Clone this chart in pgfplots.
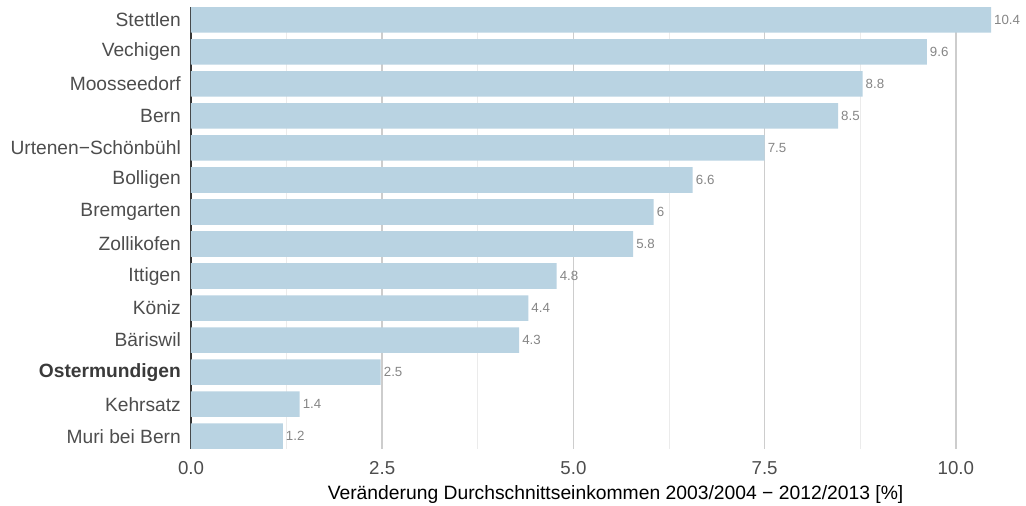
\documentclass[border=0pt]{standalone}
\usepackage{fontspec}
\setmainfont{Liberation Sans}
\usepackage{pgfplots}
\usepackage{pgfplotstable}
\pgfplotsset{compat=1.18}

\definecolor{barblue}{HTML}{B9D3E2}
\definecolor{labgray}{HTML}{4D4D4D}
\definecolor{valgray}{HTML}{858585}
\definecolor{majgrid}{HTML}{CDCDCD}
\definecolor{mingrid}{HTML}{EBEBEB}

% y position, value, printed label
\pgfplotstableread{
y x lab
0 1.2 1.2
1 1.42 1.4
2 2.48 2.5
3 4.29 4.3
4 4.41 4.4
5 4.78 4.8
6 5.78 5.8
7 6.05 6
8 6.56 6.6
9 7.5 7.5
10 8.46 8.5
11 8.78 8.8
12 9.62 9.6
13 10.46 10.4
}\incdata

\begin{document}
\begin{tikzpicture}
\path[use as bounding box] (-191pt,-57pt) rectangle (835pt,449pt);
\begin{axis}[
    at={(0,0)}, anchor=south west,
    scale only axis,
    width=826pt, height=442pt,
    xmin=0, xmax=10.8,
    ymin=-0.4, ymax=13.4,
    xbar, bar width=25.6pt,
    axis lines*=left,
    axis line style={-},
    x axis line style={draw=none},
    y axis line style={draw=labgray!70!black, line width=1.6pt},
    xtick={0,2.5,5,7.5,10},
    minor x tick num=1,
    xmajorgrids, xminorgrids,
    major grid style={majgrid, line width=1.5pt},
    minor grid style={mingrid, line width=0.8pt},
    major tick length=0pt, minor tick length=0pt,
    tick style={draw=none},
    ytick={0,...,13},
    yticklabels={Muri bei Bern, Kehrsatz, {\textbf{\color{labgray!75!black}Ostermundigen}}, Bäriswil, Köniz, Ittigen, Zollikofen, Bremgarten, Bolligen, Urtenen−Schönbühl, Bern, Moosseedorf, Vechigen, Stettlen},
    yticklabel style={font=\fontsize{19.2}{21}\selectfont, text=labgray, inner sep=0pt, anchor=east, xshift=-10pt},
    xticklabel style={font=\fontsize{18.7}{20}\selectfont, text=labgray, inner sep=0pt, anchor=north, yshift=-12pt,
        /pgf/number format/.cd, fixed, fixed zerofill, precision=1, assume math mode=true},
    xlabel={Veränderung Durchschnittseinkommen 2003/2004 − 2012/2013 [\%]},
    xlabel style={at={(axis description cs:0.514,0)}, anchor=north, yshift=-36pt, inner sep=0pt,
        font=\fontsize{19.3}{21}\selectfont, text=black},
    nodes near coords,
    point meta=explicit symbolic,
    every node near coord/.append style={font=\fontsize{13.3}{14}\selectfont, text=valgray, inner sep=0pt, anchor=west, xshift=3pt},
    clip=false,
]
\addplot[fill=barblue, draw=none] table[x=x, y=y, meta=lab] {\incdata};
\end{axis}
\end{tikzpicture}
\end{document}
